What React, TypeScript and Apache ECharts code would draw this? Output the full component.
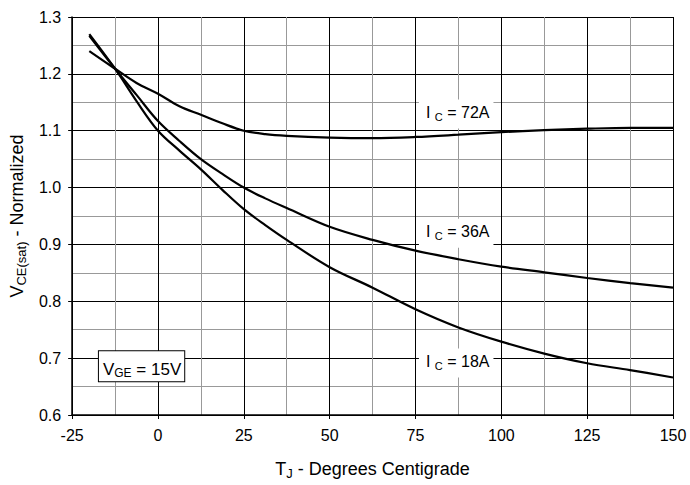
import React, { useEffect, useRef } from 'react';
import * as echarts from 'echarts';

// Junction temperature (deg C) sample points shared by all curves
const tj = [-20, -12.5, -6.25, 0, 6.25, 12.5, 18.75, 25, 31.25, 37.5, 50, 62.5, 75, 87.5, 100, 112.5, 125, 137.5, 150];

// Normalized VCE(sat) per collector current
const vce72A = [1.24, 1.209, 1.184, 1.165, 1.143, 1.128, 1.113, 1.1, 1.094, 1.091, 1.088, 1.087, 1.089, 1.093, 1.0975, 1.101, 1.1035, 1.105, 1.105];
const vce36A = [1.267, 1.209, 1.163, 1.117, 1.082, 1.05, 1.024, 1.0, 0.981, 0.964, 0.931, 0.908, 0.889, 0.874, 0.861, 0.851, 0.841, 0.832, 0.824];
const vce18A = [1.27, 1.209, 1.152, 1.1, 1.065, 1.032, 0.996, 0.962, 0.934, 0.908, 0.86, 0.824, 0.786, 0.754, 0.729, 0.708, 0.691, 0.679, 0.666];

const seriesNames = ['72A', '36A', '18A'];

const xMin = -25;
const xMax = 150;
const xStep = 25;
const yMin = 0.6;
const yMax = 1.3;
const yStep = 0.1;

// label box anchors (top-left) in data coordinates
const labelAnchors: number[][] = [
  [76, 1.155],
  [76, 0.945],
  [76, 0.717],
];
const vgeAnchor = [-17.2, 0.712];

const FONT = '"Liberation Sans", Arial, Helvetica, sans-serif';

export default function App() {
  const ref = useRef<HTMLDivElement>(null);

  useEffect(() => {
    document.body.style.margin = '0';
    if (!ref.current) return;
    const chart = echarts.init(ref.current, undefined, { renderer: 'svg' });

    const mk = (vals: number[]) => tj.map((t, i) => [t, vals[i]]);
    const lineSeries = [vce72A, vce36A, vce18A].map((vals, i) => ({
      name: seriesNames[i],
      type: 'line',
      data: mk(vals),
      smooth: 0.35,
      showSymbol: false,
      symbol: 'none',
      lineStyle: { color: '#000', width: 2.2 },
      z: 5,
    }));

    const nameRich = {
      m: { fontSize: 18, lineHeight: 22, fontFamily: FONT, color: '#000' },
      s: { fontSize: 13, lineHeight: 12, verticalAlign: 'bottom', fontFamily: FONT, color: '#000' },
    };

    chart.setOption({
      animation: false,
      backgroundColor: '#fff',
      grid: { left: 71, right: 17, top: 17, bottom: 68, containLabel: false },
      xAxis: {
        type: 'value',
        min: xMin,
        max: xMax,
        interval: xStep,
        name: '{m|T}{s|J}{m| - Degrees Centigrade}',
        nameLocation: 'middle',
        nameGap: 43,
        nameTextStyle: { rich: nameRich },
        axisLine: { show: true, onZero: false, lineStyle: { color: '#000', width: 1.5 } },
        axisTick: { show: true, inside: false, length: 4, lineStyle: { color: '#000', width: 1 } },
        axisLabel: { fontSize: 16, fontFamily: FONT, color: '#000', margin: 12 },
        splitLine: { show: true, lineStyle: { color: '#000', width: 1 } },
        minorTick: { show: false, splitNumber: 2 },
        minorSplitLine: { show: true, lineStyle: { color: '#999', width: 1 } },
      },
      yAxis: {
        type: 'value',
        min: yMin,
        max: yMax,
        interval: yStep,
        name: '{m|V}{s|CE(sat)}{m| - Normalized}',
        nameLocation: 'middle',
        nameGap: 40,
        nameTextStyle: { rich: nameRich },
        axisLine: { show: true, onZero: false, lineStyle: { color: '#000', width: 1.5 } },
        axisTick: { show: true, inside: false, length: 4, lineStyle: { color: '#000', width: 1 } },
        axisLabel: {
          fontSize: 16,
          fontFamily: FONT,
          color: '#000',
          margin: 11,
          formatter: (v: number) => v.toFixed(1),
        },
        splitLine: { show: true, lineStyle: { color: '#000', width: 1 } },
        minorTick: { show: false, splitNumber: 2 },
        minorSplitLine: { show: true, lineStyle: { color: '#999', width: 1 } },
      },
      series: lineSeries,
    });

    const icLabel = (p: number[], amps: string) => ({
      type: 'text',
      x: p[0],
      y: p[1],
      z: 100,
      style: {
        text: `{m|I }{s|C}{m| = ${amps}}`,
        align: 'left',
        verticalAlign: 'top',
        backgroundColor: '#fff',
        padding: [3, 4, 6, 7],
        rich: {
          m: { fontSize: 16, lineHeight: 20, fontFamily: FONT, fill: '#000' },
          s: { fontSize: 11, lineHeight: 8, verticalAlign: 'bottom', fontFamily: FONT, fill: '#000' },
        },
      },
    });

    const graphics: any[] = labelAnchors.map((a, i) =>
      icLabel(chart.convertToPixel({ gridIndex: 0 }, a) as number[], seriesNames[i])
    );
    const vp = chart.convertToPixel({ gridIndex: 0 }, vgeAnchor) as number[];
    graphics.push({
      type: 'text',
      x: vp[0],
      y: vp[1],
      z: 100,
      style: {
        text: '{m|V}{s|GE}{m| = 15V}',
        align: 'left',
        verticalAlign: 'top',
        backgroundColor: '#fff',
        borderColor: '#000',
        borderWidth: 1,
        padding: [8, 3, 2, 4],
        rich: {
          m: { fontSize: 17, lineHeight: 20, fontFamily: FONT, fill: '#000' },
          s: { fontSize: 12, lineHeight: 12, verticalAlign: 'bottom', fontFamily: FONT, fill: '#000' },
        },
      },
    });
    chart.setOption({ graphic: graphics });

    return () => chart.dispose();
  }, []);

  return <div ref={ref} style={{ width: 690, height: 485 }} />;
}
